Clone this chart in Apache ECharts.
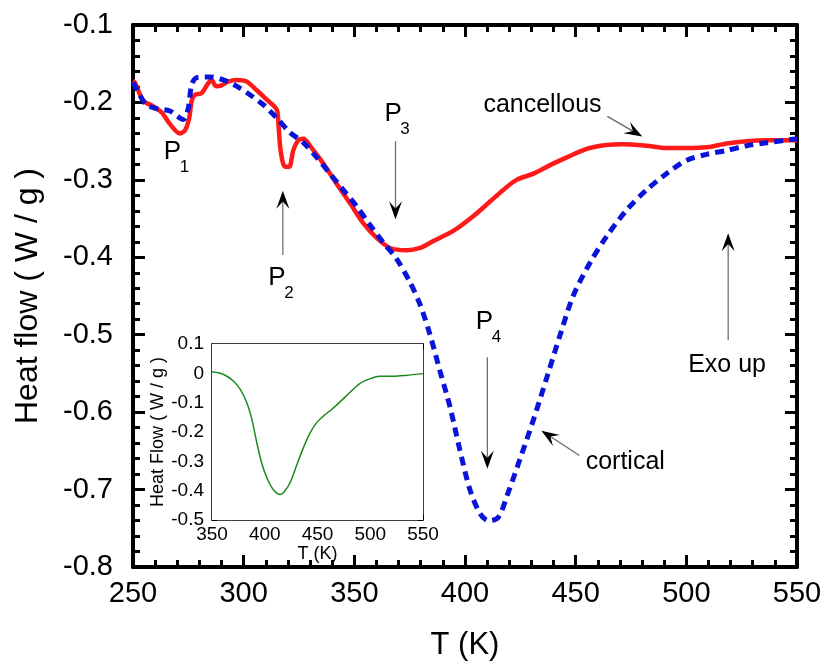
<!DOCTYPE html>
<html>
<head>
<meta charset="utf-8">
<script src="https://cdn.jsdelivr.net/npm/echarts@6/dist/echarts.min.js"></script>
<style>html,body{margin:0;padding:0;background:#fff;}#c{width:826px;height:666px;}</style>
</head>
<body>
<div id="c"></div>
<script>
// ---- data ----
const xTicks = [250, 300, 350, 400, 450, 500, 550];
const yTicks = [-0.8, -0.7, -0.6, -0.5, -0.4, -0.3, -0.2, -0.1];

const cancellousT = [250, 251, 254.7, 259.2, 263, 266.7, 271.2, 273.5, 275.4, 276.5, 278, 281, 284, 285.5, 287.5, 290, 293, 296.8, 301.3, 305.8, 310.3, 314.9, 315.7, 316.7, 318.7, 320.6, 322.4, 324.7, 327, 330, 336, 342, 348, 354, 360.1, 366.1, 373.6, 379.7, 385.7, 394.7, 403.7, 411.3, 417.3, 423.3, 430.9, 438.4, 446, 455, 464, 471.5, 482, 491, 500, 509.2, 518.2, 527.2, 536.3, 550];
const cancellousV = [-0.172, -0.175, -0.198, -0.205, -0.213, -0.228, -0.240, -0.236, -0.220, -0.198, -0.190, -0.188, -0.175, -0.171, -0.179, -0.178, -0.173, -0.171, -0.173, -0.184, -0.196, -0.209, -0.228, -0.262, -0.283, -0.283, -0.262, -0.249, -0.247, -0.256, -0.279, -0.305, -0.330, -0.356, -0.375, -0.388, -0.391, -0.388, -0.379, -0.366, -0.347, -0.328, -0.313, -0.300, -0.292, -0.281, -0.271, -0.260, -0.255, -0.254, -0.256, -0.259, -0.259, -0.258, -0.253, -0.250, -0.249, -0.249];

const corticalT = [250, 253, 256, 260.7, 266.7, 272.7, 275, 276.5, 278.8, 284.8, 290.8, 296.8, 302.8, 308.9, 314.9, 321, 327, 333, 339, 345, 351, 357, 363.1, 369.1, 375.1, 379.7, 384.2, 388.7, 393.2, 397.7, 402.2, 406.8, 410.5, 415, 419.5, 424.8, 430.9, 437, 443, 449, 456.5, 464, 473, 482, 491, 500, 509.2, 518.2, 527.2, 536.3, 550];
const corticalV = [-0.174, -0.190, -0.203, -0.208, -0.211, -0.222, -0.207, -0.177, -0.168, -0.167, -0.171, -0.179, -0.190, -0.203, -0.220, -0.239, -0.252, -0.271, -0.292, -0.313, -0.334, -0.358, -0.381, -0.402, -0.432, -0.461, -0.500, -0.547, -0.593, -0.649, -0.700, -0.731, -0.740, -0.736, -0.704, -0.661, -0.610, -0.555, -0.500, -0.449, -0.407, -0.373, -0.339, -0.313, -0.292, -0.275, -0.267, -0.262, -0.256, -0.252, -0.247];

const insetT = [350, 361, 370.5, 376.8, 383, 387.8, 392.5, 397, 402, 408, 414.6, 419, 424, 430, 436.6, 443, 449, 455.5, 465, 477.6, 490, 499.6, 509, 521.6, 534, 550];
const insetV = [0.005, -0.004, -0.027, -0.055, -0.100, -0.157, -0.237, -0.305, -0.356, -0.396, -0.413, -0.401, -0.373, -0.316, -0.254, -0.203, -0.169, -0.146, -0.118, -0.076, -0.035, -0.019, -0.010, -0.010, -0.007, -0.001];
const insetXTicks = [350, 400, 450, 500, 550];
const insetYTicks = [-0.5, -0.4, -0.3, -0.2, -0.1, 0, 0.1];

// annotation anchors in data units
const peakLabels = [
  {sub: '1', at: [267.8, -0.264]},
  {sub: '2', at: [315.0, -0.427]},
  {sub: '3', at: [367.5, -0.215]},
  {sub: '4', at: [408.8, -0.484]}
];
const arrows = [
  {from: [317.7, -0.397], to: [317.7, -0.314]},
  {from: [368.6, -0.250], to: [368.6, -0.351]},
  {from: [410.1, -0.529], to: [410.1, -0.673]},
  {from: [464.3, -0.218], to: [480.1, -0.244]},
  {from: [451.7, -0.656], to: [434.5, -0.624]},
  {from: [518.9, -0.507], to: [518.9, -0.369]}
];
const textLabels = [
  {text: 'cancellous', at: [435.0, -0.204]},
  {text: 'cortical', at: [472.4, -0.664]},
  {text: 'Exo up', at: [518.4, -0.539]}
];

const FONT = 'Liberation Sans, Arial, sans-serif';
const pair = (a, b) => a.map((v, i) => [v, b[i]]);

function mainX(pos, showLabel) {
  return {
    type: 'value', gridIndex: 0, position: pos,
    min: xTicks[0], max: xTicks[xTicks.length - 1], interval: xTicks[1] - xTicks[0],
    axisLine: {show: true, onZero: false, lineStyle: {color: '#000', width: 4}},
    axisTick: {show: true, inside: true, length: 12, lineStyle: {color: '#000', width: 3}},
    minorTick: {show: true, splitNumber: 5, length: 7, lineStyle: {color: '#000', width: 3}},
    splitLine: {show: false}, minorSplitLine: {show: false},
    axisLabel: {show: showLabel, fontSize: 29, color: '#000', margin: 12, fontFamily: FONT},
    name: showLabel ? 'T (K)' : '', nameLocation: 'middle', nameGap: 63,
    nameTextStyle: {fontSize: 31, color: '#000', fontFamily: FONT}
  };
}
function mainY(pos, showLabel) {
  return {
    type: 'value', gridIndex: 0, position: pos,
    min: yTicks[0], max: yTicks[yTicks.length - 1], interval: 0.1,
    axisLine: {show: true, onZero: false, lineStyle: {color: '#000', width: 4}},
    axisTick: {show: true, inside: true, length: 12, lineStyle: {color: '#000', width: 3}},
    minorTick: {show: true, splitNumber: 5, length: 7, lineStyle: {color: '#000', width: 3}},
    splitLine: {show: false}, minorSplitLine: {show: false},
    axisLabel: {show: showLabel, fontSize: 29, color: '#000', margin: 20, fontFamily: FONT,
      formatter: v => v.toFixed(1)},
    name: showLabel ? 'Heat flow ( W / g )' : '', nameLocation: 'middle', nameGap: 89,
    nameTextStyle: {fontSize: 32, color: '#000', fontFamily: FONT}
  };
}
function insetX(pos, showLabel) {
  return {
    type: 'value', gridIndex: 1, position: pos,
    min: insetXTicks[0], max: insetXTicks[insetXTicks.length - 1], interval: 50,
    axisLine: {show: true, onZero: false, lineStyle: {color: '#000', width: 1.5}},
    axisTick: {show: true, inside: true, length: 5, lineStyle: {color: '#000', width: 1}},
    minorTick: {show: true, splitNumber: 5, length: 3, lineStyle: {color: '#000', width: 1}},
    splitLine: {show: false},
    axisLabel: {show: showLabel, fontSize: 19, color: '#000', margin: 5, fontFamily: FONT},
    name: showLabel ? 'T (K)' : '', nameLocation: 'middle', nameGap: 23,
    nameTextStyle: {fontSize: 18, color: '#000', fontFamily: FONT}
  };
}
function insetY(pos, showLabel) {
  return {
    type: 'value', gridIndex: 1, position: pos,
    min: insetYTicks[0], max: insetYTicks[insetYTicks.length - 1], interval: 0.1,
    axisLine: {show: true, onZero: false, lineStyle: {color: '#000', width: 1.5}},
    axisTick: {show: true, inside: true, length: 5, lineStyle: {color: '#000', width: 1}},
    minorTick: {show: true, splitNumber: 5, length: 3, lineStyle: {color: '#000', width: 1}},
    splitLine: {show: false},
    axisLabel: {show: showLabel, fontSize: 19, color: '#000', margin: 8, fontFamily: FONT,
      formatter: v => (Math.abs(v) < 1e-9 ? '0' : v.toFixed(1))},
    name: showLabel ? 'Heat Flow ( W / g )' : '', nameLocation: 'middle', nameGap: 43,
    nameTextStyle: {fontSize: 18, color: '#000', fontFamily: FONT}
  };
}

const chart = echarts.init(document.getElementById('c'), null, {renderer: 'canvas'});
chart.setOption({
  animation: false,
  backgroundColor: '#fff',
  grid: [
    {left: 133, right: 29, top: 25, bottom: 91, show: false},
    {left: 212, top: 344, width: 211, height: 176, show: true, backgroundColor: '#fff', borderWidth: 0, z: 3}
  ],
  xAxis: [mainX('bottom', true), mainX('top', false), insetX('bottom', true), insetX('top', false)],
  yAxis: [mainY('left', true), mainY('right', false), insetY('left', true), insetY('right', false)],
  series: [
    {type: 'line', name: 'cancellous', xAxisIndex: 0, yAxisIndex: 0, data: pair(cancellousT, cancellousV),
      showSymbol: false, smooth: 0.3, lineStyle: {color: '#ff1a1a', width: 4.5}, z: 2},
    {type: 'line', name: 'cortical', xAxisIndex: 0, yAxisIndex: 0, data: pair(corticalT, corticalV),
      showSymbol: false, smooth: 0.3, lineStyle: {color: '#0a14d8', width: 5, type: [9, 6]}, z: 3},
    {type: 'line', name: 'inset', xAxisIndex: 2, yAxisIndex: 2, data: pair(insetT, insetV),
      showSymbol: false, smooth: 0.3, lineStyle: {color: '#1a8a1a', width: 1.5}, z: 5}
  ]
});

function px(p) { return chart.convertToPixel({gridIndex: 0}, p); }
const graphics = [];
peakLabels.forEach(l => {
  const c = px(l.at);
  graphics.push({type: 'text', x: c[0], y: c[1], z: 20,
    style: {text: 'P', fontSize: 26, fontFamily: FONT, fill: '#000', align: 'center', verticalAlign: 'middle'}});
  graphics.push({type: 'text', x: c[0] + 12, y: c[1] + 15, z: 20,
    style: {text: l.sub, fontSize: 17, fontFamily: FONT, fill: '#000', align: 'center', verticalAlign: 'middle'}});
});
textLabels.forEach(l => {
  const c = px(l.at);
  graphics.push({type: 'text', x: c[0], y: c[1], z: 20,
    style: {text: l.text, fontSize: 25, fontFamily: FONT, fill: '#000', align: 'center', verticalAlign: 'middle'}});
});
arrows.forEach(a => {
  const t = px(a.from), h = px(a.to);
  const dx = h[0] - t[0], dy = h[1] - t[1];
  const len = Math.sqrt(dx * dx + dy * dy);
  const ux = dx / len, uy = dy / len, nx = -uy, ny = ux;
  const L = 18, W = 6.5;
  graphics.push({type: 'line', z: 20,
    shape: {x1: t[0], y1: t[1], x2: h[0] - ux * L * 0.6, y2: h[1] - uy * L * 0.6},
    style: {stroke: '#666', lineWidth: 1.2}});
  graphics.push({type: 'polygon', z: 21,
    shape: {points: [
      [h[0], h[1]],
      [h[0] - ux * L + nx * W, h[1] - uy * L + ny * W],
      [h[0] - ux * L * 0.6, h[1] - uy * L * 0.6],
      [h[0] - ux * L - nx * W, h[1] - uy * L - ny * W]
    ]},
    style: {fill: '#000'}});
});
chart.setOption({graphic: graphics});
</script>
</body>
</html>
